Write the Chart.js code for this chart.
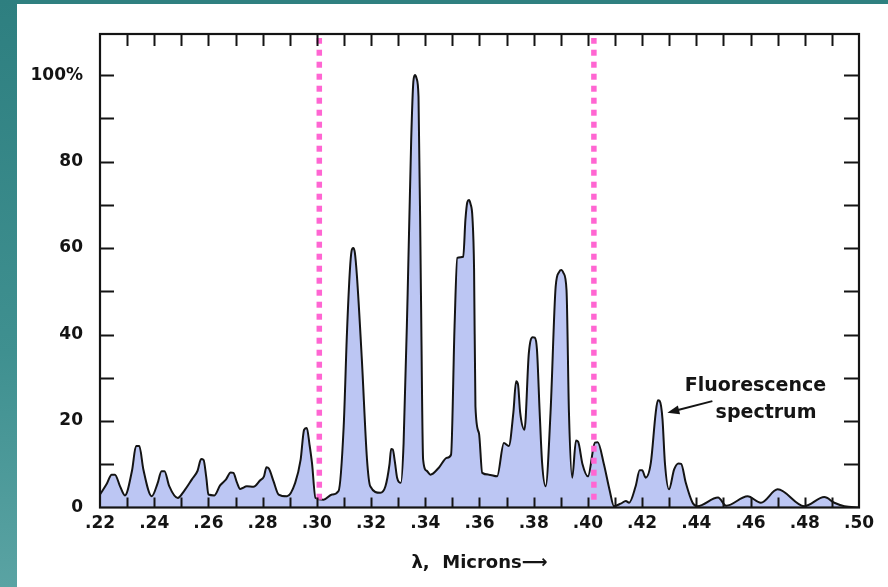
<!DOCTYPE html>
<html>
<head>
<meta charset="utf-8">
<script src="https://cdn.jsdelivr.net/npm/chart.js@4.4.1/dist/chart.umd.min.js"></script>
<style>
  html, body { margin: 0; padding: 0; background: #fff; }
  #wrap { position: relative; width: 888px; height: 587px; background: #fff; overflow: hidden; }
  #topband { position: absolute; left: 0; top: 0; width: 888px; height: 4px; background: #2f8080; }
  #leftband { position: absolute; left: 0; top: 0; width: 17px; height: 587px; background: linear-gradient(#2e7f80, #3f9090 60%, #5aa3a3); }
  canvas { position: absolute; left: 0; top: 0; }
</style>
</head>
<body>
<div id="wrap">
  <div id="topband"></div>
  <div id="leftband"></div>
  <canvas id="c" width="888" height="587"></canvas>
</div>
<script>
// ---- data (wavelength in microns, relative intensity in %) ----
const wavelengths = [
  0.2200, 0.2225, 0.2243, 0.2255, 0.2274, 0.2292, 0.2318, 0.2333, 0.2345, 0.2360,
  0.2391, 0.2412, 0.2427, 0.2438, 0.2455, 0.2487, 0.2510, 0.2539, 0.2560, 0.2573,
  0.2582, 0.2592, 0.2600, 0.2622, 0.2643, 0.2665, 0.2682, 0.2692, 0.2705, 0.2717,
  0.2742, 0.2766, 0.2791, 0.2805, 0.2814, 0.2823, 0.2840, 0.2859, 0.2890, 0.2920,
  0.2940, 0.2953, 0.2963, 0.2973, 0.2982, 0.2995, 0.3025, 0.3056, 0.3080, 0.3099,
  0.3111, 0.3122, 0.3128, 0.3134, 0.3140, 0.3148, 0.3166, 0.3185, 0.3197, 0.3234,
  0.3253, 0.3268, 0.3274, 0.3280, 0.3288, 0.3296, 0.3310, 0.3320, 0.3335, 0.3348,
  0.3356, 0.3362, 0.3368, 0.3375, 0.3384, 0.3392, 0.3405, 0.3419, 0.3450, 0.3480,
  0.3495, 0.3508, 0.3518, 0.3540, 0.3548, 0.3555, 0.3561, 0.3567, 0.3574, 0.3580,
  0.3585, 0.3598, 0.3610, 0.3634, 0.3665, 0.3690, 0.3708, 0.3725, 0.3735, 0.3742,
  0.3750, 0.3766, 0.3782, 0.3796, 0.3804, 0.3812, 0.3822, 0.3831, 0.3844, 0.3862,
  0.3881, 0.3894, 0.3902, 0.3910, 0.3921, 0.3930, 0.3942, 0.3956, 0.3964, 0.3980,
  0.4000, 0.4026, 0.4036, 0.4059, 0.4080, 0.4096, 0.4121, 0.4140, 0.4152, 0.4176,
  0.4191, 0.4200, 0.4213, 0.4232, 0.4250, 0.4258, 0.4265, 0.4275, 0.4284, 0.4299,
  0.4318, 0.4334, 0.4344, 0.4361, 0.4386, 0.4404, 0.4480, 0.4510, 0.4589, 0.4638,
  0.4700, 0.4798, 0.4872, 0.4909, 0.4946, 0.5000
];
const intensity = [
  3.0, 5.5, 7.6, 7.6, 4.9, 2.8, 8.5, 14.2, 14.2, 8.8,
  2.6, 5.5, 8.4, 8.4, 5.0, 2.2, 3.8, 6.5, 8.5, 11.2,
  11.0, 7.0, 3.0, 2.8, 5.1, 6.5, 8.1, 8.0, 5.8, 4.3,
  4.9, 4.8, 6.3, 7.2, 9.3, 9.0, 6.1, 3.0, 2.6, 5.7,
  11.0, 18.0, 18.4, 14.5, 10.3, 2.2, 1.8, 3.0, 3.8, 18.8,
  40.3, 55.0, 59.3, 60.0, 59.0, 53.4, 34.2, 11.1, 4.9, 3.4,
  4.9, 10.0, 13.5, 13.4, 10.5, 6.9, 5.7, 14.9, 49.6, 85.0,
  98.5, 100.0, 99.2, 95.0, 49.6, 11.1, 8.5, 7.6, 9.2, 11.5,
  12.2, 41.9, 57.7, 58.0, 66.5, 70.6, 71.1, 70.2, 67.0, 55.0,
  23.4, 17.2, 8.0, 7.6, 7.2, 14.9, 14.2, 22.0, 29.2, 28.5,
  22.0, 18.0, 35.7, 39.4, 39.3, 36.5, 22.0, 10.3, 4.9, 21.9,
  51.1, 54.5, 54.9, 54.2, 50.3, 21.9, 6.9, 15.5, 15.2, 10.0,
  7.2, 15.0, 15.1, 10.0, 4.0, 0.3, 0.9, 1.5, 1.1, 4.9,
  8.6, 8.6, 6.9, 10.3, 21.9, 24.8, 24.6, 20.5, 10.3, 4.2,
  8.8, 10.2, 10.1, 5.7, 1.1, 0.3, 2.3, 0.4, 2.6, 1.1,
  4.2, 0.3, 2.4, 1.1, 0.3, 0.0
];
// vertical dotted marker lines (microns)
const markerLines = [0.3009, 0.4022];
// tick values and labels
const xTickValues = [0.22, 0.24, 0.26, 0.28, 0.30, 0.32, 0.34, 0.36, 0.38, 0.40, 0.42, 0.44, 0.46, 0.48, 0.50];
const xTickLabels = ['.22', '.24', '.26', '.28', '.30', '.32', '.34', '.36', '.38', '.40', '.42', '.44', '.46', '.48', '.50'];
const xMinorMarks = [0.23, 0.24, 0.25, 0.26, 0.27, 0.28, 0.29, 0.30, 0.31, 0.32, 0.33, 0.34, 0.35, 0.36, 0.37, 0.38, 0.39, 0.40, 0.41, 0.42, 0.43, 0.44, 0.45, 0.46, 0.47, 0.48, 0.49];
const yTickValues = [0, 20, 40, 60, 80, 100];
const yTickLabels = ['0', '20', '40', '60', '80', '100%'];
const yMinorMarks = [10, 20, 30, 40, 50, 60, 70, 80, 90, 100];
const annotationLines = ['Fluorescence', 'spectrum'];
const xAxisTitle = 'λ,  Microns⟶';

const FONT = '"DejaVu Sans", "Liberation Sans", Arial, sans-serif';
const INK = '#141414';

const framePlugin = {
  id: 'frame',
  afterDatasetsDraw(chart) {
    const { ctx, chartArea: a, scales: { x, y } } = chart;
    ctx.save();
    ctx.strokeStyle = INK;
    ctx.lineWidth = 2;
    ctx.beginPath();
    xMinorMarks.forEach(v => {
      const px = Math.round(x.getPixelForValue(v)) + 0.5;
      ctx.moveTo(px, a.bottom); ctx.lineTo(px, a.bottom - 10);
      ctx.moveTo(px, a.top); ctx.lineTo(px, a.top + 12);
    });
    yMinorMarks.forEach(v => {
      const py = Math.round(y.getPixelForValue(v)) + 0.5;
      ctx.moveTo(a.left, py); ctx.lineTo(a.left + 14, py);
      ctx.moveTo(a.right, py); ctx.lineTo(a.right - 15, py);
    });
    ctx.stroke();
    ctx.lineWidth = 2.2;
    ctx.strokeRect(a.left, a.top, a.right - a.left, a.bottom - a.top);

    // annotation
    ctx.fillStyle = INK;
    ctx.font = 'bold 19px ' + FONT;
    ctx.textAlign = 'center';
    ctx.textBaseline = 'middle';
    ctx.fillText(annotationLines[0], x.getPixelForValue(0.4618), y.getPixelForValue(28.0));
    ctx.fillText(annotationLines[1], x.getPixelForValue(0.4657), y.getPixelForValue(21.9));
    const tx = x.getPixelForValue(0.4459), ty = y.getPixelForValue(24.6);
    const hx = x.getPixelForValue(0.4293), hy = y.getPixelForValue(21.9);
    const ang = Math.atan2(hy - ty, hx - tx);
    ctx.lineWidth = 2;
    ctx.beginPath();
    ctx.moveTo(tx, ty); ctx.lineTo(hx - 8 * Math.cos(ang), hy - 8 * Math.sin(ang));
    ctx.stroke();
    ctx.beginPath();
    ctx.moveTo(hx, hy);
    ctx.lineTo(hx - 12 * Math.cos(ang) + 4.5 * Math.sin(ang), hy - 12 * Math.sin(ang) - 4.5 * Math.cos(ang));
    ctx.lineTo(hx - 12 * Math.cos(ang) - 4.5 * Math.sin(ang), hy - 12 * Math.sin(ang) + 4.5 * Math.cos(ang));
    ctx.closePath();
    ctx.fill();
    ctx.restore();
  }
};

const datasets = [];
markerLines.forEach(m => {
  datasets.push({
    data: [{ x: m, y: 1.8 }, { x: m, y: 108.6 }],
    borderColor: '#ff66d2',
    borderWidth: 5.5,
    borderDash: [6, 6],
    borderCapStyle: 'butt',
    pointRadius: 0,
    tension: 0,
    fill: false,
    order: 0
  });
});
datasets.push({
  data: wavelengths.map((w, i) => ({ x: w, y: intensity[i] })),
  borderColor: INK,
  borderWidth: 2,
  backgroundColor: '#bcc6f3',
  fill: 'origin',
  pointRadius: 0,
  cubicInterpolationMode: 'monotone',
  order: 1
});

new Chart(document.getElementById('c'), {
  type: 'line',
  data: { datasets },
  options: {
    responsive: false,
    animation: false,
    events: [],
    layout: { padding: { left: 0, top: 34, right: 29, bottom: 0 } },
    plugins: { legend: { display: false }, tooltip: { enabled: false } },
    scales: {
      x: {
        type: 'linear',
        min: 0.22,
        max: 0.50,
        grid: { display: false, drawTicks: false },
        border: { display: false },
        afterBuildTicks: s => { s.ticks = xTickValues.map(v => ({ value: v })); },
        afterFit: s => { s.height = 79.5; },
        ticks: {
          padding: 6,
          color: INK,
          font: { family: FONT, size: 17, weight: 'bold' },
          maxRotation: 0,
          autoSkip: false,
          callback: (v, i) => xTickLabels[i]
        },
        title: {
          display: true,
          text: xAxisTitle,
          color: INK,
          font: { family: FONT, size: 18, weight: 'bold' },
          padding: { top: 0, bottom: 13 }
        }
      },
      y: {
        type: 'linear',
        min: 0,
        max: 109.5,
        grid: { display: false, drawTicks: false },
        border: { display: false },
        afterBuildTicks: s => { s.ticks = yTickValues.map(v => ({ value: v })); },
        afterFit: s => { s.width = 100; },
        ticks: {
          padding: 17,
          color: INK,
          font: { family: FONT, size: 17, weight: 'bold' },
          autoSkip: false,
          callback: (v, i) => yTickLabels[i]
        }
      }
    }
  },
  plugins: [framePlugin]
});
</script>
</body>
</html>
